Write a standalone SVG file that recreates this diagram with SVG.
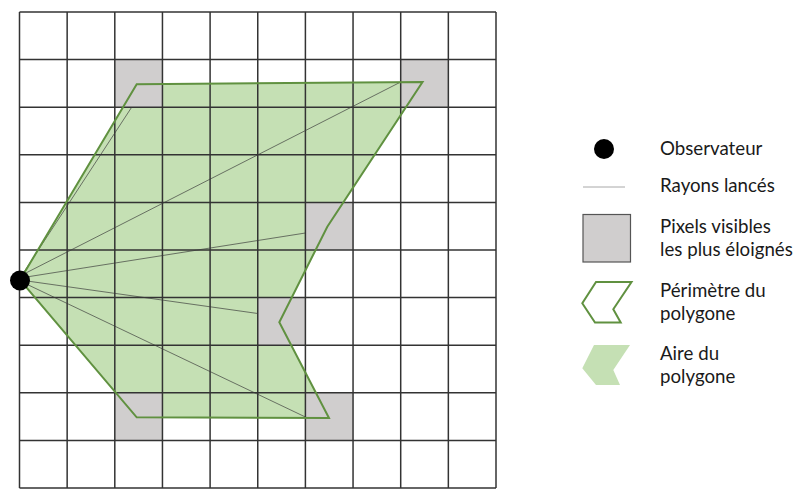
<svg xmlns="http://www.w3.org/2000/svg" width="797" height="489" viewBox="0 0 797 489">
<style>
.grid line{stroke:#333333;stroke-width:1.5}
.px{fill:#d0cece}
.fill{fill:#c5e0b4}
.perim{fill:none;stroke:#609140;stroke-width:2;stroke-linejoin:miter}
.ray{stroke:#3a3a3a;stroke-width:0.8;stroke-opacity:0.85}
.lbl{font-family:Lato,"Liberation Sans",sans-serif;font-size:18.7px;fill:#1a1a1a}
</style>
<rect width="797" height="489" fill="#ffffff"/>
<g id="polygon-area">
<polygon class="fill" points="20,280 136.7,84.3 422.5,82 327.3,226.7 279.3,322.3 329,418 136.7,417.3"/>
</g>
<g id="pixels">
<rect class="px" x="114.8" y="59.6" width="47.65" height="47.6"/>
<rect class="px" x="400.7" y="59.6" width="47.65" height="47.6"/>
<rect class="px" x="305.4" y="202.4" width="47.65" height="47.6"/>
<rect class="px" x="257.75" y="297.6" width="47.65" height="47.6"/>
<rect class="px" x="114.8" y="392.8" width="47.65" height="47.6"/>
<rect class="px" x="305.4" y="392.8" width="47.65" height="47.6"/>
</g>
<g id="grid" class="grid">
<line x1="19.5" y1="12" x2="19.5" y2="488"/>
<line x1="67.15" y1="12" x2="67.15" y2="488"/>
<line x1="114.8" y1="12" x2="114.8" y2="488"/>
<line x1="162.45" y1="12" x2="162.45" y2="488"/>
<line x1="210.1" y1="12" x2="210.1" y2="488"/>
<line x1="257.75" y1="12" x2="257.75" y2="488"/>
<line x1="305.4" y1="12" x2="305.4" y2="488"/>
<line x1="353.05" y1="12" x2="353.05" y2="488"/>
<line x1="400.7" y1="12" x2="400.7" y2="488"/>
<line x1="448.35" y1="12" x2="448.35" y2="488"/>
<line x1="496" y1="12" x2="496" y2="488"/>
<line x1="19.5" y1="12" x2="496" y2="12"/>
<line x1="19.5" y1="59.6" x2="496" y2="59.6"/>
<line x1="19.5" y1="107.2" x2="496" y2="107.2"/>
<line x1="19.5" y1="154.8" x2="496" y2="154.8"/>
<line x1="19.5" y1="202.4" x2="496" y2="202.4"/>
<line x1="19.5" y1="250" x2="496" y2="250"/>
<line x1="19.5" y1="297.6" x2="496" y2="297.6"/>
<line x1="19.5" y1="345.2" x2="496" y2="345.2"/>
<line x1="19.5" y1="392.8" x2="496" y2="392.8"/>
<line x1="19.5" y1="440.4" x2="496" y2="440.4"/>
<line x1="19.5" y1="488" x2="496" y2="488"/>
</g>
<g id="rays">
<line class="ray" x1="20" y1="278" x2="131.7" y2="107.2"/>
<line class="ray" x1="20" y1="276" x2="400.7" y2="82"/>
<line class="ray" x1="20" y1="278" x2="305.4" y2="233"/>
<line class="ray" x1="20" y1="280" x2="257.75" y2="313.5"/>
<line class="ray" x1="20" y1="281" x2="305.4" y2="417"/>
</g>
<g id="polygon-perimeter">
<polygon class="perim" points="20,280 136.7,84.3 422.5,82 327.3,226.7 279.3,322.3 329,418 136.7,417.3"/>
</g>
<g id="observer">
<circle cx="20" cy="280.5" r="10" fill="#000000"/>
</g>
<g id="legend">
<g id="legend-observer">
<circle cx="604" cy="149" r="10" fill="#000000"/>
<text class="lbl" x="660" y="155">Observateur</text>
</g>
<g id="legend-rays">
<line x1="583" y1="187" x2="625" y2="187" stroke="#a8a8a8" stroke-width="1"/>
<text class="lbl" x="660" y="192">Rayons lancés</text>
</g>
<g id="legend-pixels">
<rect x="583" y="214.5" width="47.5" height="47.5" fill="#d0cece" stroke="#555555" stroke-width="1.2"/>
<text class="lbl" x="660" y="233">Pixels visibles</text>
<text class="lbl" x="660" y="256">les plus éloignés</text>
</g>
<g id="legend-perimeter">
<polygon points="596,282 631.5,282 613.3,309.3 620.7,322.5 595,322.5 582.3,303.3" fill="none" stroke="#609140" stroke-width="2"/>
<text class="lbl" x="660" y="297">Périmètre du</text>
<text class="lbl" x="660" y="320">polygone</text>
</g>
<g id="legend-area">
<polygon points="594,345 630,345 613.3,370 620,385 596,385 582.3,368.3" fill="#c5e0b4"/>
<text class="lbl" x="660" y="360">Aire du</text>
<text class="lbl" x="660" y="383">polygone</text>
</g>
</g>
</svg>
